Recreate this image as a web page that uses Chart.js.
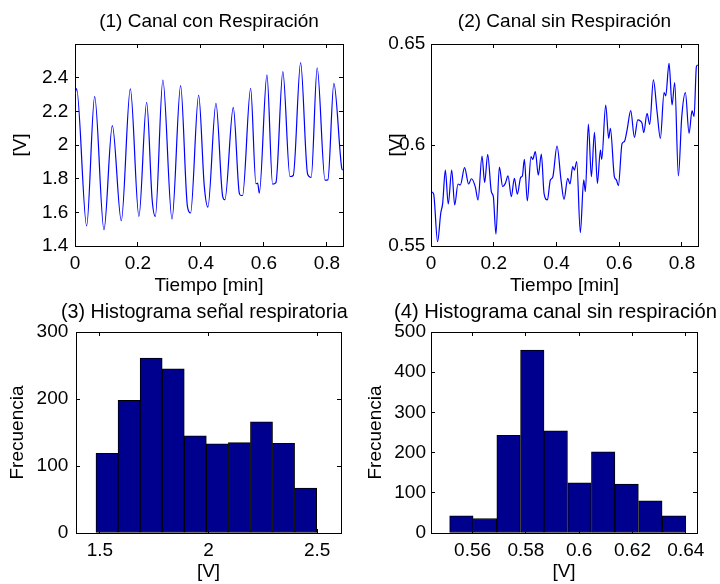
<!DOCTYPE html>
<html>
<head>
<meta charset="utf-8">
<script src="https://cdn.jsdelivr.net/npm/chart.js@4/dist/chart.umd.min.js"></script>
<style>
  html, body { margin: 0; padding: 0; background: #fff; }
  #fig { position: relative; width: 720px; height: 584px; overflow: hidden; background: #fff; }
  #fig canvas { position: absolute; left: 0; top: 0; }
</style>
</head>
<body>
<div id="fig">
  <canvas id="p1" width="720" height="584"></canvas>
  <canvas id="p2" width="720" height="584"></canvas>
  <canvas id="p3" width="720" height="584"></canvas>
  <canvas id="p4" width="720" height="584"></canvas>
</div>
<script>
// ---- (1) channel with respiration: time [min] and voltage [V] ----
const respTime = [0.000, 0.005, 0.037, 0.0624, 0.092, 0.1185, 0.147, 0.1757, 0.203, 0.2275,
  0.245, 0.255, 0.279, 0.308, 0.3354, 0.357, 0.367, 0.3926, 0.4106, 0.422,
  0.4476, 0.469, 0.476, 0.5026, 0.5217, 0.5265, 0.532, 0.5577, 0.5746, 0.580,
  0.5852, 0.6095, 0.6275, 0.638, 0.660, 0.6825, 0.693, 0.7164, 0.7386, 0.750,
  0.769, 0.794, 0.803, 0.822, 0.847, 0.850];
const respVolt = [2.30, 2.335, 1.52, 2.287, 1.497, 2.115, 1.55, 2.333, 1.576, 2.254,
  1.675, 1.576, 2.386, 1.56, 2.353, 1.635, 1.596, 2.297, 1.754, 1.631,
  2.248, 1.694, 1.675, 2.224, 1.714, 1.70, 1.70, 2.337, 1.77, 1.773,
  1.714, 2.416, 1.768, 1.777, 2.436, 1.813, 1.819, 2.489, 1.827, 1.807,
  2.459, 1.791, 1.793, 2.366, 1.862, 1.85];

// ---- (2) channel without respiration ----
const refTime = [0.003, 0.0085, 0.021, 0.031, 0.0372, 0.0457, 0.055, 0.066, 0.0755, 0.086,
  0.0935, 0.107, 0.120, 0.1286, 0.141, 0.150, 0.1626, 0.171, 0.1807, 0.1923,
  0.1987, 0.207, 0.2178, 0.2285, 0.237, 0.2455, 0.256, 0.2657, 0.2752, 0.2859,
  0.2912, 0.2976, 0.307, 0.3188, 0.3241, 0.3326, 0.342, 0.3517, 0.3603, 0.371,
  0.3804, 0.3879, 0.4017, 0.4144, 0.424, 0.4357, 0.4431, 0.4516, 0.457, 0.4644,
  0.476, 0.4867, 0.492, 0.5016, 0.5112, 0.521, 0.5303, 0.540, 0.5441, 0.5568,
  0.5664, 0.5717, 0.5845, 0.5908, 0.5972, 0.609, 0.6164, 0.6249, 0.6366, 0.6483,
  0.659, 0.6674, 0.6727, 0.678, 0.6886, 0.6971, 0.7088, 0.7205, 0.7311, 0.7428,
  0.7481, 0.7587, 0.7683, 0.7768, 0.7885, 0.7991, 0.8108, 0.8225, 0.8321, 0.8385,
  0.8459, 0.850];
const refVolt = [0.5767, 0.5757, 0.5521, 0.5662, 0.5711, 0.5876, 0.5708, 0.5876, 0.5703, 0.5807,
  0.5802, 0.5888, 0.5807, 0.5833, 0.5794, 0.5728, 0.5945, 0.5814, 0.5954, 0.5769,
  0.5744, 0.5559, 0.5890, 0.5794, 0.5810, 0.5847, 0.5744, 0.5835, 0.5757, 0.5840,
  0.5847, 0.5929, 0.5723, 0.5942, 0.5929, 0.5967, 0.5851, 0.5955, 0.5761, 0.5728,
  0.5827, 0.5840, 0.5995, 0.5827, 0.5731, 0.5835, 0.5807, 0.5893, 0.5876, 0.5918,
  0.5566, 0.5827, 0.5769, 0.6104, 0.5843, 0.6063, 0.5810, 0.5975, 0.5929, 0.6198,
  0.6033, 0.6083, 0.5843, 0.5827, 0.5799, 0.6008, 0.6017, 0.6074, 0.6170, 0.6038,
  0.6124, 0.6119, 0.6107, 0.6061, 0.6157, 0.6102, 0.6322, 0.6165, 0.6033, 0.6259,
  0.6243, 0.6404, 0.6198, 0.6309, 0.5847, 0.6137, 0.6259, 0.6058, 0.6170, 0.6140,
  0.6388, 0.6396];

// ---- (3) histogram of the respiratory signal ----
const respBins = [1.5328, 1.6344, 1.7360, 1.8376, 1.9392, 2.0408, 2.1424, 2.2440, 2.3456, 2.4472];
const respCounts = [119, 198, 261, 245, 145, 133, 135, 166, 134, 67];

// ---- (4) histogram of the channel without respiration ----
const refBins = [0.5558, 0.5647, 0.5735, 0.5824, 0.5912, 0.6001, 0.6090, 0.6178, 0.6267, 0.6356];
const refCounts = [43, 36, 243, 455, 254, 125, 202, 122, 80, 43];

// ---- tick values ----
const timeTicks = [0, 0.2, 0.4, 0.6, 0.8];
const respVoltTicks = [1.4, 1.6, 1.8, 2.0, 2.2, 2.4];
const refVoltTicks = [0.55, 0.6, 0.65];
const respBinTicks = [1.5, 2, 2.5];
const respCountTicks = [0, 100, 200, 300];
const refBinTicks = [0.56, 0.58, 0.6, 0.62, 0.64];
const refCountTicks = [0, 100, 200, 300, 400, 500];

// ---- shared look ----
const FONT = "'Liberation Sans', Arial, Helvetica, sans-serif";
const FS = 19;
Chart.defaults.font.family = FONT;
Chart.defaults.font.size = FS;
Chart.defaults.color = '#000';

const W = 720, H = 584, YW = 75;
const fmt = v => String(+Number(v).toFixed(4));

// subplot heading, centred over the plotting box
const subplotTitle = {
  id: 'subplotTitle',
  afterDraw(chart, args, opts) {
    const { ctx, chartArea } = chart;
    ctx.save();
    ctx.font = (opts.size || FS) + 'px ' + FONT;
    ctx.fillStyle = '#000';
    ctx.textAlign = 'center';
    ctx.textBaseline = 'alphabetic';
    ctx.fillText(opts.text, (chartArea.left + chartArea.right) / 2 + (opts.dx || 0), chartArea.top - opts.gap);
    ctx.restore();
  }
};

function setTicks(values) {
  return scale => { scale.ticks = values.map(v => ({ value: v })); };
}

// one boxed axis pair with inward ticks on all four sides
function boxedScales(s) {
  const grid = { drawOnChartArea: false, drawTicks: true, tickLength: -4, color: '#000', lineWidth: 1, offset: false };
  const border = { display: true, color: '#000', width: 1 };
  return {
    x: {
      type: 'linear', min: s.xMin, max: s.xMax, offset: false,
      afterBuildTicks: setTicks(s.xTicks),
      afterFit: sc => { sc.height = s.xh; },
      ticks: { padding: 9.9, maxRotation: 0, autoSkip: false, callback: fmt, color: '#000' },
      grid, border,
      title: { display: true, text: s.xTitle, color: '#000', font: { size: FS }, padding: { top: 0, bottom: s.xTitlePad } }
    },
    xTop: {
      type: 'linear', axis: 'x', position: 'top', min: s.xMin, max: s.xMax, offset: false,
      afterBuildTicks: setTicks(s.xTicks),
      afterFit: sc => { sc.height = 0; },
      ticks: { display: false }, grid, border
    },
    y: {
      type: 'linear', min: s.yMin, max: s.yMax,
      afterBuildTicks: setTicks(s.yTicks),
      afterFit: sc => { sc.width = YW; },
      ticks: { padding: s.yTickPad, autoSkip: false, callback: fmt, color: '#000' },
      grid, border,
      title: { display: true, text: s.yTitle, color: '#000', font: { size: FS }, padding: { top: s.yTitlePad, bottom: 0 } }
    },
    yRight: {
      type: 'linear', axis: 'y', position: 'right', min: s.yMin, max: s.yMax,
      afterBuildTicks: setTicks(s.yTicks),
      afterFit: sc => { sc.width = 0; },
      ticks: { display: false }, grid, border
    }
  };
}

function subplot(id, type, dataset, s) {
  const a = s.area;
  return new Chart(document.getElementById(id), {
    type,
    data: { datasets: [dataset] },
    options: {
      responsive: false, animation: false, devicePixelRatio: 1, events: [],
      layout: { padding: { left: a.l - YW, right: W - a.r, top: a.t, bottom: H - a.b - s.xh } },
      plugins: {
        legend: { display: false }, tooltip: { enabled: false }, title: { display: false },
        subplotTitle: { text: s.title, gap: s.titleGap, dx: s.titleDx, size: s.titleSize }
      },
      scales: boxedScales(s)
    },
    plugins: [subplotTitle]
  });
}

const lineStyle = { borderColor: '#0000ff', borderWidth: 1.2, pointRadius: 0, fill: false, cubicInterpolationMode: 'monotone' };
const barStyle = { backgroundColor: '#00008f', borderColor: '#000', borderWidth: 1, borderSkipped: false, barPercentage: 1, categoryPercentage: 1 };

subplot('p1', 'line',
  Object.assign({ data: respTime.map((t, i) => ({ x: t, y: respVolt[i] })) }, lineStyle),
  { area: { l: 75, t: 44, r: 343, b: 246 }, xh: 52,
    xMin: 0, xMax: 0.851, xTicks: timeTicks, xTitle: 'Tiempo [min]', xTitlePad: 1.3,
    yMin: 1.4, yMax: 2.6, yTicks: respVoltTicks, yTitle: '[V]', yTitlePad: 9.6, yTickPad: 10.7,
    title: '(1) Canal con Respiración', titleGap: 17.3, titleDx: 0, titleSize: 19 });

subplot('p2', 'line',
  Object.assign({ data: refTime.map((t, i) => ({ x: t, y: refVolt[i] })) }, lineStyle),
  { area: { l: 431, t: 44, r: 698, b: 246 }, xh: 52,
    xMin: 0, xMax: 0.851, xTicks: timeTicks, xTitle: 'Tiempo [min]', xTitlePad: 1.3,
    yMin: 0.55, yMax: 0.65, yTicks: refVoltTicks, yTitle: '[V]', yTitlePad: 29.6, yTickPad: 9.7,
    title: '(2) Canal sin Respiración', titleGap: 17.3, titleDx: 0, titleSize: 19 });

subplot('p3', 'bar',
  Object.assign({ data: respBins.map((c, i) => ({ x: c, y: respCounts[i] })) }, barStyle),
  { area: { l: 76, t: 332, r: 341, b: 533 }, xh: 51,
    xMin: 1.39, xMax: 2.61, xTicks: respBinTicks, xTitle: '[V]', xTitlePad: 0.6,
    yMin: 0, yMax: 300, yTicks: respCountTicks, yTitle: 'Frecuencia', yTitlePad: 5.1, yTickPad: 11.7,
    title: '(3) Histograma señal respiratoria', titleGap: 13.7, titleDx: -4.2, titleSize: 19.7 });

subplot('p4', 'bar',
  Object.assign({ data: refBins.map((c, i) => ({ x: c, y: refCounts[i] })) }, barStyle),
  { area: { l: 431, t: 332, r: 697, b: 533 }, xh: 51,
    xMin: 0.5444, xMax: 0.6442, xTicks: refBinTicks, xTitle: '[V]', xTitlePad: 0.6,
    yMin: 0, yMax: 500, yTicks: refCountTicks, yTitle: 'Frecuencia', yTitlePad: 8.6, yTickPad: 9,
    title: '(4) Histograma canal sin respiración', titleGap: 13.7, titleDx: -8.5, titleSize: 20.2 });
</script>
</body>
</html>
